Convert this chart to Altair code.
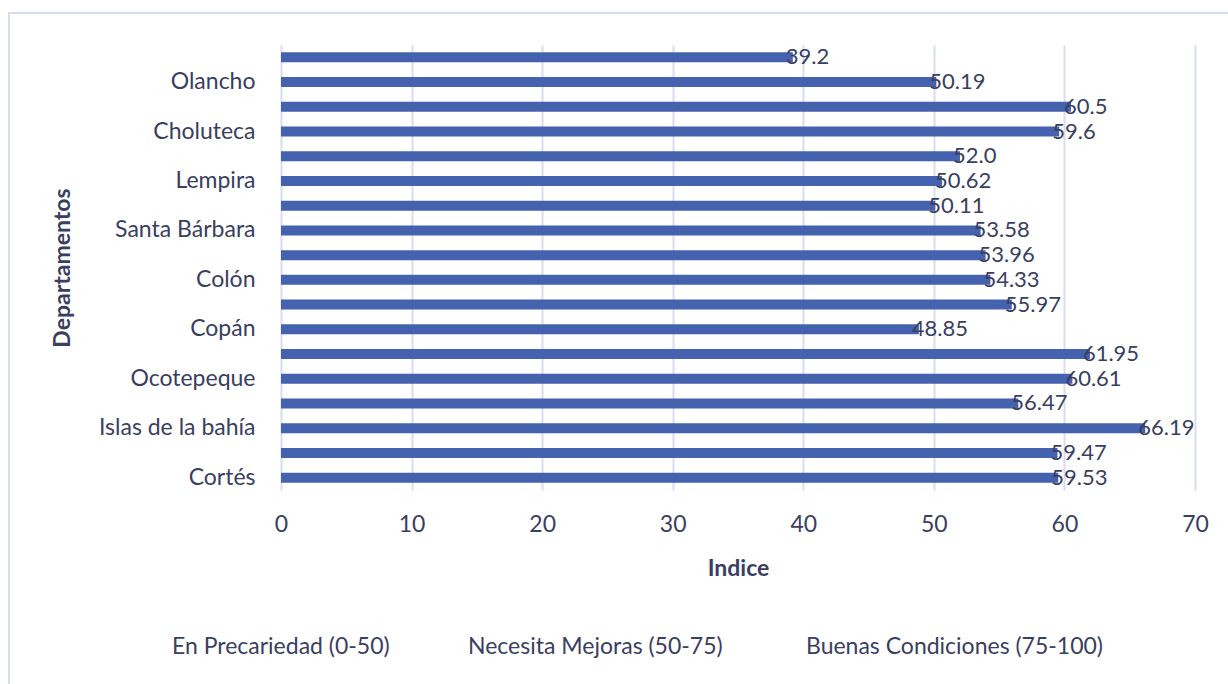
import altair as alt
import pandas as pd

# Departments, top to bottom, with their index values and the printed value labels
departamentos = [
    "Gracias a Dios", "Olancho", "Valle", "Choluteca", "La Paz", "Lempira",
    "Intibucá", "Santa Bárbara", "Yoro", "Colón", "Comayagua", "Copán",
    "El Paraíso", "Ocotepeque", "Francisco Morazán", "Islas de la bahía",
    "Atlántida", "Cortés",
]
indice = [
    39.2, 50.19, 60.5, 59.6, 52.0, 50.62,
    50.11, 53.58, 53.96, 54.33, 55.97, 48.85,
    61.95, 60.61, 56.47, 66.19,
    59.47, 59.53,
]
etiquetas = [
    "39.2", "50.19", "60.5", "59.6", "52.0", "50.62",
    "50.11", "53.58", "53.96", "54.33", "55.97", "48.85",
    "61.95", "60.61", "56.47", "66.19",
    "59.47", "59.53",
]
# Only every other department name is printed on the axis
nombres_visibles = [
    "Olancho", "Choluteca", "Lempira", "Santa Bárbara", "Colón",
    "Copán", "Ocotepeque", "Islas de la bahía", "Cortés",
]
x_ticks = [0, 10, 20, 30, 40, 50, 60, 70]
categorias = ["En Precariedad (0-50)", "Necesita Mejoras (50-75)", "Buenas Condiciones (75-100)"]

TEXT = "#3a3e60"
BAR = "#4462ae"
GRID = "#d9dcef"
FONT = "Lato"

df = pd.DataFrame({"Departamento": departamentos, "Indice": indice, "Etiqueta": etiquetas})

shown = "[" + ",".join("'" + n + "'" for n in nombres_visibles) + "]"

y_enc = alt.Y(
    "Departamento:N",
    sort=departamentos,
    scale=alt.Scale(paddingInner=0.6, paddingOuter=0.3),
    axis=alt.Axis(
        title="Departamentos",
        labelExpr=f"indexof({shown}, datum.value) >= 0 ? datum.value : ''",
        ticks=False,
        domain=False,
        grid=False,
        labelPadding=26,
        labelFontSize=23,
        titleFontSize=23,
        titleFontWeight="bold",
        titleX=-219,
        titleY=222.5,
        titleAngle=270,
        titleAlign="center",
        titleBaseline="middle",
    ),
)
x_enc = alt.X(
    "Indice:Q",
    scale=alt.Scale(domain=[0, 70], nice=False),
    axis=alt.Axis(
        title="Indice",
        values=x_ticks,
        ticks=False,
        domain=False,
        grid=True,
        gridColor=GRID,
        gridWidth=2,
        labelFlush=False,
        labelPadding=23,
        labelFontSize=23,
        titleFontSize=23,
        titleFontWeight="bold",
        titleY=78,
        titleBaseline="middle",
    ),
)

base = alt.Chart(df)

bars = base.mark_bar(color=BAR, size=10).encode(y=y_enc, x=x_enc)

labels = base.mark_text(
    align="left", baseline="middle", dx=-7, font=FONT, fontSize=22, color=TEXT
).encode(y=alt.Y("Departamento:N", sort=departamentos), x="Indice:Q", text="Etiqueta:N")

# Outer chart frame
frame = alt.Chart(pd.DataFrame({"k": [0]})).mark_rect(
    fill=None, stroke=GRID, strokeWidth=2
).encode(
    x=alt.value(-272), x2=alt.value(1000), y=alt.value(-32), y2=alt.value(700)
)

# Legend captions along the bottom
legend_x = [-109, 187, 525]
legend_layers = [
    alt.Chart(pd.DataFrame({"t": [c]})).mark_text(
        align="left", baseline="middle", font=FONT, fontSize=23, color=TEXT
    ).encode(x=alt.value(xp), y=alt.value(602), text="t:N")
    for c, xp in zip(categorias, legend_x)
]

chart = alt.layer(frame, bars, labels, *legend_layers).properties(
    width=914,
    height=445,
    autosize=alt.AutoSizeParams(type="none"),
    padding={"left": 281, "top": 45, "right": 33, "bottom": 194},
    background="white",
).configure_view(stroke=None).configure_axis(
    labelFont=FONT, titleFont=FONT, labelColor=TEXT, titleColor=TEXT
)

chart.save("out.html", embed_options={"renderer": "svg", "actions": False})
